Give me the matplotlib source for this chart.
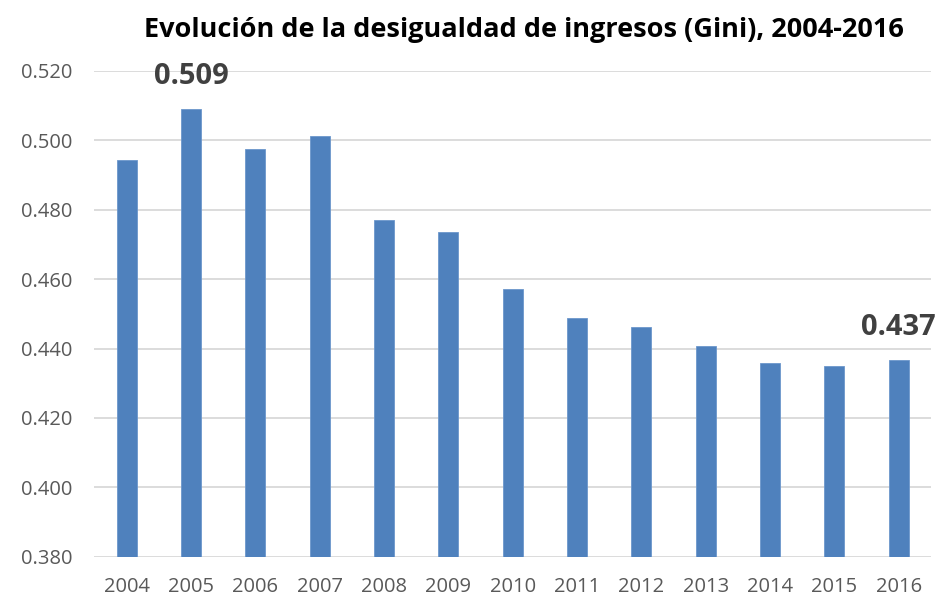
import numpy as np
import matplotlib
matplotlib.use("Agg")
import matplotlib.pyplot as plt

years = ["2004", "2005", "2006", "2007", "2008", "2009", "2010",
         "2011", "2012", "2013", "2014", "2015", "2016"]
gini = [0.4943, 0.509, 0.4974, 0.5014, 0.4771, 0.4735, 0.4572,
        0.4489, 0.4463, 0.4408, 0.4358, 0.4350, 0.4366]
labelled = {"2005": "0.509", "2016": "0.437"}
yticks = [0.380, 0.400, 0.420, 0.440, 0.460, 0.480, 0.500, 0.520]

plt.rcParams['font.family'] = ['Open Sans', 'DejaVu Sans']

fig = plt.figure(figsize=(9.38, 5.98), dpi=100)
ax = fig.add_axes([0.1007, 0.0691, 0.8918, 0.8122])

x = np.arange(len(years))
ax.bar(x, gini, width=0.31, color='#4F81BD', edgecolor='#6C97CC', linewidth=0.6, zorder=3)

ax.set_xlim(-0.5, len(years) - 0.5)
ax.set_ylim(0.380, 0.520)
ax.set_yticks(yticks)
ax.set_yticklabels(["%.3f" % v for v in yticks])
ax.set_xticks(x)
ax.set_xticklabels(years)
ax.tick_params(axis='both', length=0, labelsize=14.5, labelcolor='#595959')
ax.tick_params(axis='y', pad=16)
ax.tick_params(axis='x', pad=14.5)
ax.grid(axis='y', color='#D9D9D9', linewidth=1.3, zorder=0)
for s in ax.spines.values():
    s.set_visible(False)

for i, yr in enumerate(years):
    if yr in labelled:
        ax.text(i, gini[i] + 0.0052, labelled[yr], ha='center', va='bottom',
                fontsize=21, fontweight='bold', color='#404040')

fig.text(0.559, 0.949, "Evolución de la desigualdad de ingresos (Gini), 2004-2016",
         ha='center', va='center', fontsize=19.5, fontweight='bold', color='black')

fig.savefig("out.png", dpi=100)
